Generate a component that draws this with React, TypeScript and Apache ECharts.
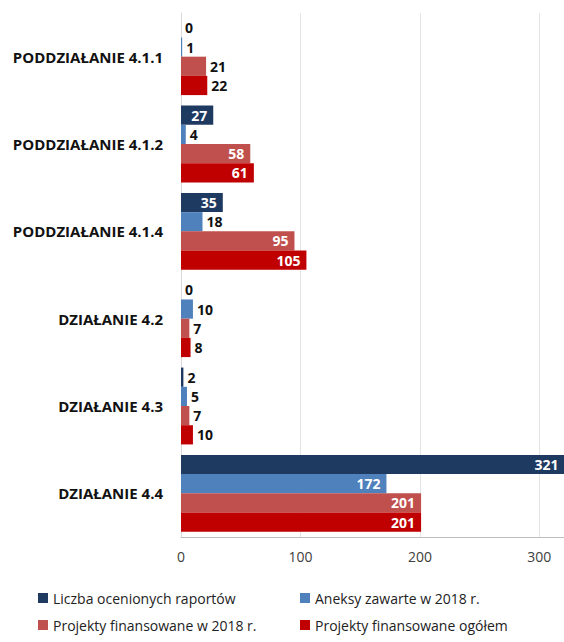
import React, { useEffect, useRef } from "react";
import * as echarts from "echarts";

const categories = [
  "PODDZIAŁANIE 4.1.1",
  "PODDZIAŁANIE 4.1.2",
  "PODDZIAŁANIE 4.1.4",
  "DZIAŁANIE 4.2",
  "DZIAŁANIE 4.3",
  "DZIAŁANIE 4.4",
];
const seriesNames = [
  "Liczba ocenionych raportów",
  "Aneksy zawarte w 2018 r.",
  "Projekty finansowane w 2018 r.",
  "Projekty finansowane ogółem",
];
const liczbaRaportow = [0, 27, 35, 0, 2, 321];
const aneksy2018 = [1, 4, 18, 10, 5, 172];
const projekty2018 = [21, 58, 95, 7, 7, 201];
const projektyOgolem = [22, 61, 105, 8, 10, 201];
const xTicks = [0, 100, 200, 300];

const colors = ["#1F3A61", "#4F81BD", "#C0504D", "#C00000"];
const FONT = "Open Sans";

export default function App() {
  const ref = useRef<HTMLDivElement>(null);
  useEffect(() => {
    document.body.style.margin = "0";
    const chart = echarts.init(ref.current!, null, { renderer: "svg" });
    const all = [liczbaRaportow, aneksy2018, projekty2018, projektyOgolem];
    const series = all.map((vals, i) => ({
      name: seriesNames[i],
      type: "bar",
      barGap: "0%",
      barCategoryGap: "12%",
      itemStyle: { color: colors[i] },
      data: vals.map((v) => ({
        value: v,
        label:
          v > 25
            ? { show: true, position: "insideRight", color: "#fff", distance: 6 }
            : { show: true, position: "right", color: "#111", distance: 4 },
      })),
      label: {
        show: true,
        fontFamily: FONT,
        fontWeight: "bold",
        fontSize: 14,
      },
    }));
    const legendText = { color: "#222", fontFamily: FONT, fontSize: 14, lineHeight: 14 };
    chart.setOption({
      animation: false,
      color: colors,
      grid: { left: 181, top: 13, height: 524, width: 387, outerBoundsMode: "none" },
      xAxis: {
        type: "value",
        min: 0,
        max: 324,
        interval: 100,
        axisLine: { show: true, lineStyle: { color: "#BFBFBF" } },
        axisTick: { show: false },
        splitLine: { lineStyle: { color: "#E4E4E4" } },
        axisLabel: {
          color: "#404040",
          fontFamily: FONT,
          fontSize: 14,
          margin: 12,
          showMaxLabel: false,
          formatter: (v: number) => (xTicks.includes(v) ? String(v) : ""),
        },
      },
      yAxis: {
        type: "category",
        data: categories,
        inverse: true,
        axisLine: { show: true, lineStyle: { color: "#D9D9D9" } },
        axisTick: { show: false },
        axisLabel: {
          color: "#111",
          fontFamily: FONT,
          fontWeight: "bold",
          fontSize: 15,
          margin: 18,
        },
      },
      legend: [
        {
          orient: "vertical",
          left: 33,
          top: 586,
          height: 50,
          itemWidth: 10,
          itemHeight: 10,
          itemGap: 13,
          icon: "rect",
          data: [seriesNames[0], seriesNames[2]],
          textStyle: legendText,
        },
        {
          orient: "vertical",
          left: 295,
          top: 586,
          height: 50,
          itemWidth: 10,
          itemHeight: 10,
          itemGap: 13,
          icon: "rect",
          data: [seriesNames[1], seriesNames[3]],
          textStyle: legendText,
        },
      ],
      series,
    });
    return () => chart.dispose();
  }, []);
  return <div ref={ref} style={{ width: 564, height: 642 }} />;
}
